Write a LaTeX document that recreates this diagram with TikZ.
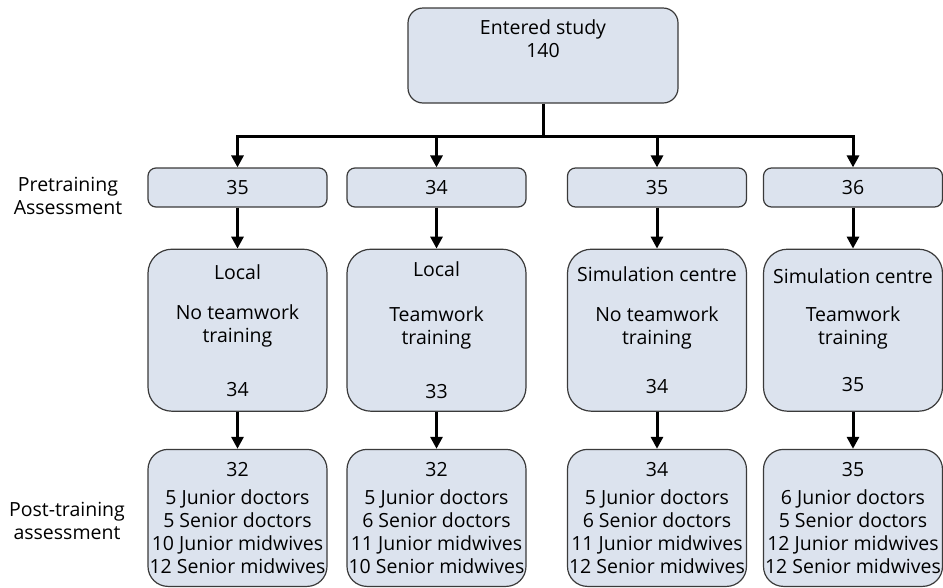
\documentclass[tikz,border=0pt]{standalone}
\usepackage{fontspec}
\setmainfont{Open Sans}
\usetikzlibrary{positioning,arrows.meta}
\definecolor{boxfill}{HTML}{DCE3EE}
\definecolor{boxline}{HTML}{3A3A3A}
\begin{document}
\begin{tikzpicture}[x=1pt, y=-1pt, font=\fontsize{19.5}{23}\selectfont,
  box/.style = {draw=boxline, line width=1.2pt, fill=boxfill, rounded corners=#1, align=center, inner sep=0pt},
  prebox/.style = {box=8pt, minimum width=179pt, minimum height=39pt},
  groupbox/.style = {box=24pt, minimum width=179pt, minimum height=162pt},
  postbox/.style = {box=20pt, minimum width=179pt, minimum height=137pt},
  link/.style = {line width=3pt, -{Triangle[length=12pt, width=12pt]}},
  side/.style = {align=center}]
\useasboundingbox (0,0) rectangle (943,587);
\node[box=15pt, minimum width=270pt, minimum height=95pt] (entered) at (543,55.5) {};
\node[anchor=north, inner sep=0pt, align=center] (enteredtext) at ([yshift=-12pt]entered.north) {Entered study\\140};
\coordinate (split) at (543,136);
% pretraining
\node[prebox] (pre1) at (237.5,187.5) {35};
\node[prebox] (pre2) at (436.5,187.5) {34};
\node[prebox] (pre3) at (657,187.5) {35};
\node[prebox] (pre4) at (853,187.5) {36};
% groups
\node[groupbox] (group1) [below=41pt of pre1] {Local\\[17pt] No teamwork\\ training\\[31pt] 34};
\node[groupbox] (group2) [below=41pt of pre2] {Local\\[22pt] Teamwork\\ training\\[31pt] 33};
\node[groupbox] (group3) [below=41pt of pre3] {Simulation centre\\[17pt] No teamwork\\ training\\[26pt] 34};
\node[groupbox] (group4) [below=41pt of pre4] {Simulation centre\\[15pt] Teamwork\\ training\\[24pt] 35};
% post-training
\node[postbox] (post1) [below=37pt of group1] {32\\[5pt] 5 Junior doctors\\ 5 Senior doctors\\ 10 Junior midwives\\ 12 Senior midwives};
\node[postbox] (post2) [below=37pt of group2] {32\\[5pt] 5 Junior doctors\\ 6 Senior doctors\\ 11 Junior midwives\\ 10 Senior midwives};
\node[postbox] (post3) [below=37pt of group3] {34\\[5pt] 5 Junior doctors\\ 6 Senior doctors\\ 11 Junior midwives\\ 12 Senior midwives};
\node[postbox] (post4) [below=37pt of group4] {35\\[5pt] 6 Junior doctors\\ 5 Senior doctors\\ 12 Junior midwives\\ 12 Senior midwives};
% side labels
\node[side] (pretext) at (68,196) {Pretraining\\Assessment};
\node[side] (posttext) at (67,521) {Post-training\\assessment};
% connectors
\draw[line width=3pt] (entered) -- (split);
\foreach \i in {1,...,4} {
  \draw[link] (split) -| (pre\i);
  \draw[link] (pre\i) -- (group\i);
  \draw[link] (group\i) -- (post\i);
}
\end{tikzpicture}
\end{document}
